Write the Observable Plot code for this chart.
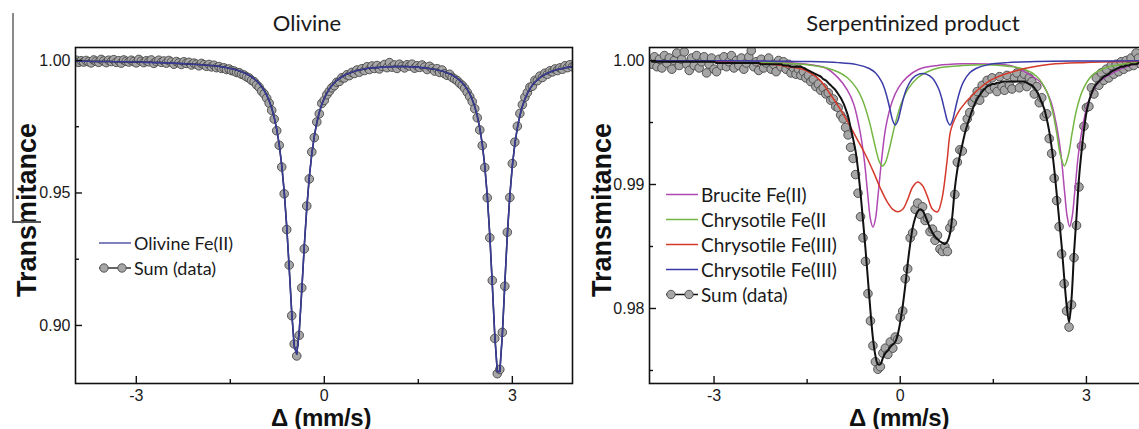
<!DOCTYPE html>
<html><head><meta charset="utf-8">
<script src="https://cdn.jsdelivr.net/npm/d3@7"></script>
<script src="https://cdn.jsdelivr.net/npm/@observablehq/plot@0.6"></script>
<style>
html,body{margin:0;padding:0;background:#fff;overflow:hidden}
#wrap{position:relative;width:1139px;height:429px;overflow:hidden;background:#fff}
.abs{position:absolute;white-space:nowrap;line-height:1}
.plotbox{width:580px;height:429px}
.plotbox > svg{max-width:none !important;width:580px !important;height:429px !important;display:block}
.title{font-family:Lato,"Open Sans",sans-serif;font-size:22px;color:#1a1a1a;transform:translate(-50%,-50%)}
.ylab{font-family:"Liberation Sans",Arial,sans-serif;font-weight:bold;font-size:27px;color:#111;transform:translate(-50%,-50%) rotate(-90deg)}
.xlab{font-family:"Liberation Sans",Arial,sans-serif;font-weight:bold;font-size:24px;letter-spacing:-0.3px;color:#111;transform:translate(-50%,-50%)}
.leg{font-family:Lato,"Open Sans",sans-serif;color:#1a1a1a;transform:translateY(-50%);display:flex;align-items:center}
.legL{font-size:18px}
.legR{font-size:19px}
.leg svg{margin-right:2px}
</style>
</head><body>
<div id="wrap">
  <div id="left" class="abs plotbox" style="left:0;top:0"></div>
  <div id="right" class="abs plotbox" style="left:580px;top:0"></div>
</div>
<script>
// ---------------- data ----------------
const velocity = [-4.00,-3.96,-3.92,-3.88,-3.84,-3.80,-3.76,-3.72,-3.68,-3.64,-3.60,-3.56,-3.52,-3.48,-3.44,-3.40,-3.36,-3.32,-3.28,-3.24,-3.20,-3.16,-3.12,-3.08,-3.04,-3.00,-2.96,-2.92,-2.88,-2.84,-2.80,-2.76,-2.72,-2.68,-2.64,-2.60,-2.56,-2.52,-2.48,-2.44,-2.40,-2.36,-2.32,-2.28,-2.24,-2.20,-2.16,-2.12,-2.08,-2.04,-2.00,-1.96,-1.92,-1.88,-1.84,-1.80,-1.76,-1.72,-1.68,-1.64,-1.60,-1.56,-1.52,-1.48,-1.44,-1.40,-1.36,-1.32,-1.28,-1.24,-1.20,-1.16,-1.12,-1.08,-1.04,-1.00,-0.96,-0.92,-0.88,-0.84,-0.80,-0.76,-0.72,-0.68,-0.64,-0.60,-0.56,-0.52,-0.48,-0.44,-0.40,-0.36,-0.32,-0.28,-0.24,-0.20,-0.16,-0.12,-0.08,-0.04,0.00,0.04,0.08,0.12,0.16,0.20,0.24,0.28,0.32,0.36,0.40,0.44,0.48,0.52,0.56,0.60,0.64,0.68,0.72,0.76,0.80,0.84,0.88,0.92,0.96,1.00,1.04,1.08,1.12,1.16,1.20,1.24,1.28,1.32,1.36,1.40,1.44,1.48,1.52,1.56,1.60,1.64,1.68,1.72,1.76,1.80,1.84,1.88,1.92,1.96,2.00,2.04,2.08,2.12,2.16,2.20,2.24,2.28,2.32,2.36,2.40,2.44,2.48,2.52,2.56,2.60,2.64,2.68,2.72,2.76,2.80,2.84,2.88,2.92,2.96,3.00,3.04,3.08,3.12,3.16,3.20,3.24,3.28,3.32,3.36,3.40,3.44,3.48,3.52,3.56,3.60,3.64,3.68,3.72,3.76,3.80,3.84,3.88,3.92,3.96,4.00];

// Olivine: measured transmittance (Sum (data))
const olivineData = [
.9996,1.0001,.9993,.9999,.9994,1.0000,.9995,.9991,1.0002,.9997,
.9993,1.0004,.9998,.9992,1.0001,.9996,1.0003,.9993,.9999,.9990,
1.0002,.9997,.9994,1.0001,.9996,.9991,1.0004,.9997,.9992,.9999,
.9995,1.0002,.9989,.9996,1.0001,.9993,.9998,.9990,1.0000,.9994,
.9986,.9996,.9991,.9985,.9995,.9989,.9993,.9983,.9990,.9986,
.9980,.9989,.9984,.9978,.9985,.9976,.9982,.9973,.9977,.9970,
.9972,.9966,.9968,.9962,.9960,.9955,.9954,.9948,.9945,.9938,
.9934,.9925,.9920,.9908,.9899,.9884,.9874,.9858,.9839,.9812,
.9779,.9735,.9680,.9598,.9497,.9362,.9228,.9037,.8930,.8885,
.8963,.9142,.9289,.9451,.9553,.9655,.9709,.9768,.9799,.9838,
.9850,.9871,.9884,.9897,.9905,.9918,.9921,.9935,.9934,.9946,
.9943,.9955,.9951,.9964,.9956,.9969,.9962,.9976,.9966,.9979,
.9970,.9981,.9968,.9978,.9985,.9973,.9992,.9975,.9983,.9970,
.9986,.9978,.9972,.9984,.9979,.9986,.9971,.9980,.9974,.9983,
.9975,.9966,.9978,.9970,.9960,.9969,.9955,.9964,.9950,.9944,
.9948,.9936,.9930,.9924,.9914,.9906,.9895,.9880,.9864,.9845,
.9818,.9784,.9738,.9679,.9596,.9482,.9331,.9170,.8951,.8818,
.8834,.8974,.9148,.9352,.9483,.9611,.9692,.9752,.9800,.9833,
.9861,.9879,.9899,.9903,.9925,.9924,.9941,.9936,.9952,.9948,
.9961,.9957,.9968,.9962,.9972,.9967,.9980,.9973,.9984,.9976,
.9981];

// Olivine Fe(II) fitted doublet
const olivineFit = [
.9997,.9997,.9997,.9997,.9997,.9997,.9997,.9996,.9996,.9996,
.9996,.9996,.9996,.9996,.9996,.9996,.9995,.9995,.9995,.9995,
.9995,.9995,.9995,.9994,.9994,.9994,.9994,.9994,.9993,.9993,
.9993,.9993,.9992,.9992,.9992,.9992,.9991,.9991,.9991,.9990,
.9990,.9989,.9989,.9988,.9988,.9987,.9987,.9986,.9986,.9985,
.9985,.9984,.9983,.9982,.9981,.9981,.9980,.9979,.9978,.9976,
.9975,.9973,.9971,.9969,.9967,.9964,.9961,.9957,.9954,.9949,
.9944,.9938,.9931,.9923,.9913,.9901,.9887,.9870,.9848,.9821,
.9786,.9741,.9683,.9606,.9505,.9374,.9216,.9049,.8922,.8892,
.8977,.9131,.9298,.9443,.9559,.9647,.9714,.9765,.9804,.9835,
.9857,.9877,.9893,.9905,.9916,.9925,.9932,.9938,.9944,.9949,
.9952,.9956,.9959,.9962,.9964,.9966,.9968,.9970,.9972,.9972,
.9973,.9973,.9974,.9975,.9976,.9976,.9976,.9977,.9977,.9977,
.9977,.9977,.9977,.9977,.9976,.9976,.9975,.9975,.9974,.9973,
.9972,.9971,.9970,.9968,.9967,.9965,.9962,.9960,.9957,.9953,
.9950,.9945,.9939,.9933,.9925,.9916,.9905,.9891,.9875,.9853,
.9826,.9792,.9746,.9685,.9602,.9490,.9342,.9157,.8962,.8826,
.8826,.8962,.9157,.9342,.9490,.9602,.9685,.9746,.9792,.9827,
.9854,.9876,.9893,.9907,.9918,.9927,.9935,.9942,.9947,.9952,
.9956,.9960,.9963,.9966,.9968,.9970,.9972,.9974,.9975,.9977,
.9978];

// Serpentinized product: measured transmittance (Sum (data))
const serpData = [
.9997,1.0003,.9995,1.0001,.9994,1.0004,.9998,1.0002,.9993,1.0000,
1.0006,.9996,1.0001,1.0007,.9997,.9992,1.0002,.9996,1.0004,.9994,
.9999,1.0003,.9990,.9997,1.0002,.9993,.9991,1.0001,.9996,1.0003,
.9995,.9999,1.0004,.9994,1.0000,.9996,1.0002,.9993,.9998,1.0003,
1.0008,.9995,.9999,.9992,1.0001,.9994,.9998,1.0002,.9993,.9997,
.9991,1.0000,.9995,.9999,.9993,.9997,.9990,.9994,.9989,.9993,
.9988,.9991,.9986,.9988,.9983,.9985,.9979,.9981,.9976,.9978,
.9973,.9974,.9968,.9969,.9963,.9962,.9956,.9953,.9946,.9940,
.9930,.9921,.9908,.9893,.9874,.9857,.9838,.9812,.9790,.9770,
.9757,.9751,.9753,.9764,.9768,.9763,.9773,.9768,.9777,.9775,
.9793,.9798,.9824,.9832,.9857,.9861,.9880,.9885,.9876,.9882,
.9871,.9873,.9862,.9864,.9855,.9859,.9848,.9846,.9850,.9846,
.9865,.9869,.9892,.9918,.9928,.9927,.9946,.9953,.9958,.9966,
.9970,.9975,.9968,.9980,.9974,.9984,.9977,.9986,.9978,.9975,
.9987,.9979,.9976,.9988,.9980,.9977,.9986,.9990,.9978,.9985,
.9989,.9979,.9986,.9983,.9973,.9979,.9966,.9970,.9955,.9957,
.9937,.9925,.9905,.9887,.9866,.9844,.9820,.9798,.9785,.9803,
.9841,.9867,.9898,.9931,.9947,.9962,.9963,.9978,.9973,.9986,
.9980,.9990,.9984,.9993,.9986,.9996,.9989,.9997,.9991,.9999,
.9993,1.0000,.9995,1.0002,.9996,1.0006,1.0002,.9997,1.0004,.9999,
1.0001];

// Serpentinized product: total fitted envelope
const serpSum = [
.9999,.9999,.9999,.9999,.9999,.9999,.9999,.9999,.9999,.9999,
.9999,.9999,.9999,.9999,.9999,.9999,.9999,.9999,.9999,.9999,
.9999,.9999,.9999,.9999,.9999,.9999,.9998,.9998,.9998,.9998,
.9998,.9998,.9998,.9998,.9998,.9998,.9998,.9998,.9998,.9998,
.9998,.9998,.9998,.9998,.9997,.9997,.9997,.9997,.9997,.9997,
.9997,.9997,.9997,.9996,.9996,.9996,.9995,.9995,.9995,.9995,
.9995,.9994,.9993,.9992,.9991,.9990,.9989,.9988,.9987,.9985,
.9984,.9982,.9980,.9978,.9976,.9973,.9970,.9966,.9961,.9955,
.9946,.9937,.9927,.9912,.9893,.9871,.9848,.9823,.9798,.9776,
.9762,.9755,.9755,.9760,.9764,.9766,.9769,.9771,.9773,.9779,
.9789,.9802,.9818,.9836,.9852,.9865,.9873,.9878,.9880,.9879,
.9875,.9870,.9865,.9861,.9858,.9856,.9854,.9853,.9852,.9854,
.9860,.9875,.9897,.9912,.9923,.9932,.9941,.9948,.9954,.9960,
.9965,.9969,.9972,.9975,.9977,.9979,.9980,.9981,.9981,.9982,
.9982,.9983,.9983,.9983,.9983,.9983,.9983,.9983,.9983,.9983,
.9983,.9982,.9981,.9980,.9978,.9975,.9971,.9966,.9961,.9953,
.9943,.9930,.9913,.9893,.9872,.9851,.9826,.9803,.9789,.9808,
.9845,.9874,.9905,.9926,.9944,.9958,.9967,.9973,.9978,.9981,
.9983,.9985,.9987,.9988,.9989,.9991,.9992,.9993,.9994,.9995,
.9995,.9996,.9996,.9997,.9997,.9997,.9998,.9998,.9998,.9998,
.9998];

// Fitted components (serpentinized product)
const bruciteX = [-4,-3,-2,-1.5,-1.2,-1.0,-0.85,-0.75,-0.65,-0.58,-0.52,-0.48,-0.44,-0.40,-0.36,-0.30,-0.23,-0.13,-0.03,0.11,0.3,0.6,1.0,1.4,1.8,2.07,2.27,2.42,2.52,2.59,2.65,2.69,2.73,2.77,2.81,2.87,2.94,3.04,3.19,3.39,3.7,4.0];
const bruciteY = [.99996,.99994,.99985,.9997,.9994,.9986,.9976,.9965,.99435,.9920,.9890,.9872,.98656,.9872,.9890,.9920,.9947,.9967,.9978,.99866,.9993,.9996,.99973,.99972,.99957,.9989,.9982,.9968,.9947,.9924,.9893,.9874,.9866,.9874,.9893,.9924,.9947,.9968,.9982,.9989,.9996,.9998];

const chrysFe2X = [-4,-3,-2,-1.5,-1.2,-1.0,-0.85,-0.7,-0.6,-0.5,-0.43,-0.38,-0.33,-0.285,-0.24,-0.19,-0.14,-0.07,0.03,0.13,0.28,0.43,0.63,1.0,1.5,2.0,2.2,2.35,2.45,2.52,2.58,2.645,2.71,2.77,2.84,2.94,3.09,3.3,3.6,4.0];
const chrysFe2Y = [.99995,.99992,.9998,.99965,.99941,.99907,.99861,.99773,.99671,.99511,.99364,.99257,.99176,.9915,.99176,.99257,.99364,.99511,.99671,.99773,.99861,.99907,.99941,.99959,.99963,.99929,.99871,.99761,.99601,.99418,.9924,.9915,.9924,.99418,.99601,.99761,.9988,.9994,.99971,.99985];

const chrysFe3aX = [-4.0,-3.0,-2.4,-2.0,-1.8,-1.61,-1.45,-1.29,-1.13,-0.97,-0.84,-0.70,-0.56,-0.43,-0.32,-0.21,-0.12,-0.04,0.04,0.12,0.20,0.28,0.36,0.44,0.52,0.60,0.67,0.75,0.81,0.88,0.97,1.18,1.45,1.88,2.42,3.0,4.0];
const chrysFe3aY = [.99998,.99994,.9998,.99965,.9995,.99935,.9990,.9984,.9973,.9961,.9950,.9937,.9924,.9910,.9897,.9886,.9880,.9878,.9880,.9888,.9898,.9902,.9899,.9890,.9880,.9878,.9888,.9917,.9943,.9953,.9961,.9973,.9984,.9992,.9997,.99985,.99995];

const chrysFe3bX = [-4,-2,-1.5,-1,-0.7,-0.5,-0.4,-0.3,-0.25,-0.2,-0.16,-0.12,-0.08,-0.04,0.0,0.05,0.1,0.2,0.3,0.36,0.42,0.52,0.62,0.67,0.72,0.76,0.80,0.84,0.88,0.92,0.97,1.02,1.12,1.22,1.42,1.72,2.2,3,4];
const chrysFe3bY = [.99999,.99995,.99992,.99983,.99967,.99936,.99901,.9983,.99768,.9968,.99594,.99514,.9948,.99512,.99589,.99692,.9977,.99857,.9989,.99895,.9989,.99857,.9977,.99692,.99589,.99512,.9948,.99514,.99594,.9968,.99768,.9983,.99901,.99936,.99967,.99983,.99992,.99996,.99998];

// axis ticks
const xMajorTicks = [-3, 0, 3];
const xMinorTicks = [-1.5, 1.5];
const olivineYMajor = [0.90, 0.95, 1.00];
const olivineYMinor = [0.925, 0.975];
const serpYMajor = [0.98, 0.99, 1.00];
const serpYMinor = [0.975, 0.985, 0.995];

// ---------------- styles ----------------
const C = {
  olivine: "#3a3d98", black: "#111111", brucite: "#b048b2", fe2: "#74b543",
  fe3a: "#d4392a", fe3b: "#3b3ba8", dotFill: "#a6a6a6", dotStroke: "#474747"
};

function zip(xs, ys) {
  return xs.map((x, i) => ({x, y: ys[i]})).filter(d => d.y != null);
}

function panel({width, marginLeft, marginRight, xDomain, yDomain, yMajor, yMinor, marks}) {
  const H = 429, mt = 47, mb = 46;
  const plotH = H - mt - mb, plotW = width - marginLeft - marginRight;
  return Plot.plot({
    width, height: H, marginLeft, marginRight, marginTop: mt, marginBottom: mb,
    x: {domain: xDomain}, y: {domain: yDomain},
    style: {fontFamily: "'Liberation Sans', Arial, sans-serif", fontSize: "16px", color: "#1a1a1a", background: "transparent", overflow: "visible", maxWidth: "none"},
    marks: [
      ...marks,
      Plot.tickX(xMajorTicks, {x: d => d, insetTop: plotH - 7, stroke: "#111", strokeWidth: 1.4}),
      Plot.tickX(xMinorTicks, {x: d => d, insetTop: plotH - 4, stroke: "#111", strokeWidth: 1.4}),
      Plot.tickY(yMajor, {y: d => d, insetRight: plotW - 7, stroke: "#111", strokeWidth: 1.4}),
      Plot.tickY(yMinor, {y: d => d, insetRight: plotW - 4, stroke: "#111", strokeWidth: 1.4}),
      Plot.axisX(xMajorTicks, {tickSize: 0, tickPadding: 6, tickFormat: d => String(d), fontSize: 16, label: null}),
      Plot.axisY(yMajor, {tickSize: 0, tickPadding: 5, tickFormat: d3.format(".2f"), fontSize: 16, label: null}),
      Plot.frame({stroke: "#111", strokeWidth: 1.6})
    ]
  });
}

const leftPts = zip(velocity, olivineData);
const leftFit = zip(velocity, olivineFit);
const rightPts = zip(velocity, serpData);
const rightSum = zip(velocity, serpSum);

const dotOpts = {x: "x", y: "y", r: 4.3, fill: C.dotFill, stroke: C.dotStroke, strokeWidth: 0.9, clip: true};

document.getElementById("left").appendChild(panel({
  width: 580, marginLeft: 75, marginRight: 8,
  xDomain: [-3.97, 3.96], yDomain: [0.8781, 1.0049],
  yMajor: olivineYMajor, yMinor: olivineYMinor,
  marks: [
    Plot.dot(leftPts, dotOpts),
    Plot.line(leftFit, {x: "x", y: "y", stroke: C.black, strokeWidth: 1.5, clip: true}),
    Plot.line(leftFit, {x: "x", y: "y", stroke: C.olivine, strokeWidth: 1.6, clip: true})
  ]
}));

const comp = (xs, ys, color) => Plot.line(zip(xs, ys), {x: "x", y: "y", stroke: color, strokeWidth: 1.5, curve: "catmull-rom", clip: true});

document.getElementById("right").appendChild(panel({
  width: 580, marginLeft: 69, marginRight: 12,
  xDomain: [-4.04, 4.0], yDomain: [0.97395, 1.00105],
  yMajor: serpYMajor, yMinor: serpYMinor,
  marks: [
    Plot.dot(rightPts, dotOpts),
    comp(bruciteX, bruciteY, C.brucite),
    comp(chrysFe2X, chrysFe2Y, C.fe2),
    comp(chrysFe3aX, chrysFe3aY, C.fe3a),
    comp(chrysFe3bX, chrysFe3bY, C.fe3b),
    Plot.line(rightSum, {x: "x", y: "y", stroke: C.black, strokeWidth: 2, curve: "catmull-rom", clip: true})
  ]
}));

// ---------------- text & legends ----------------
const wrap = document.getElementById("wrap");
function add(html, cls, left, top) {
  const d = document.createElement("div");
  d.className = "abs " + cls;
  d.style.left = left + "px"; d.style.top = top + "px";
  d.innerHTML = html;
  wrap.appendChild(d);
}
const lineSym = c => `<svg width="34" height="12"><line x1="1" x2="33" y1="6" y2="6" stroke="${c}" stroke-width="1.3"/></svg>`;
const sumSym = `<svg width="34" height="12"><line x1="1" x2="33" y1="6" y2="6" stroke="#111" stroke-width="1.3"/><circle cx="6" cy="6" r="4.2" fill="${C.dotFill}" stroke="${C.dotStroke}" stroke-width="0.9"/><circle cx="24" cy="6" r="4.2" fill="${C.dotFill}" stroke="${C.dotStroke}" stroke-width="0.9"/></svg>`;

add("Olivine", "title", 307, 23);
add("Serpentinized product", "title", 913, 23);
add("Transmitance", "ylab", 27, 210);
add("Transmitance", "ylab", 602, 210);
add("Δ (mm/s)", "xlab", 321, 417.5);
add("Δ (mm/s)", "xlab", 899, 417.5);

const leftLegend = [["Olivine Fe(II)", lineSym(C.olivine)], ["Sum (data)", sumSym]];
leftLegend.forEach(([t, s], i) => add(s + `<span>${t}</span>`, "leg legL", 98, 243 + i * 25));

const rightLegend = [
  ["Brucite Fe(II)", lineSym(C.brucite)],
  ["Chrysotile Fe(II", lineSym(C.fe2)],
  ["Chrysotile Fe(III)", lineSym(C.fe3a)],
  ["Chrysotile Fe(III)", lineSym(C.fe3b)],
  ["Sum (data)", sumSym]
];
rightLegend.forEach(([t, s], i) => add(s + `<span>${t}</span>`, "leg legR", 665, 194 + i * 25));

// stray rule marks at the left edge of the original figure
const v = document.createElement("div");
v.className = "abs"; v.style.cssText = "left:12px;top:13px;width:2px;height:209px;background:#8a8a8a";
wrap.appendChild(v);
const h = document.createElement("div");
h.className = "abs"; h.style.cssText = "left:12px;top:221px;width:29px;height:2px;background:#555";
wrap.appendChild(h);
</script>
</body></html>
